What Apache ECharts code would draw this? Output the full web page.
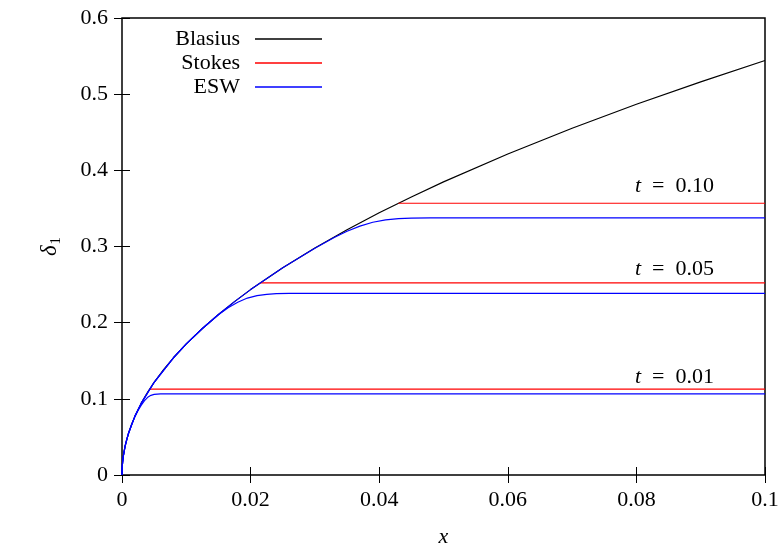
<!DOCTYPE html>
<html>
<head>
	<meta charset="utf-8" />
	<title>delta1</title>
	<script src="https://cdn.jsdelivr.net/npm/echarts@6/dist/echarts.min.js"></script>
	<style>
		* { margin: 0; padding: 0; }
		html, body { width: 784px; height: 544px; background: #fff; }
		#main { width: 784px; height: 544px; }
	</style>
</head>
<body>
	<div id="main"></div>
	<script>
		// Blasius curve
		var blasius = [[0, 0], [0.00002, 0.0077], [0.00005, 0.0122], [0.0001, 0.0172], [0.0002, 0.0243], [0.0003, 0.0298],
			[0.0005, 0.0385], [0.00075, 0.0471], [0.001, 0.0544], [0.0015, 0.0666], [0.002, 0.0770], [0.003, 0.0943],
			[0.004, 0.1088], [0.005, 0.1217], [0.0065, 0.1387], [0.008, 0.1539], [0.01, 0.1721], [0.0125, 0.1924],
			[0.015, 0.2108], [0.0175, 0.2276], [0.02, 0.2434], [0.025, 0.2721], [0.03, 0.2981], [0.035, 0.3219],
			[0.04, 0.3442], [0.045, 0.3650], [0.05, 0.3848], [0.06, 0.4215], [0.07, 0.4553], [0.08, 0.4867],
			[0.09, 0.5162], [0.1, 0.5442]];

		// Stokes levels (start where they meet Blasius)
		var stokes01 = [[0.0043, 0.1128], [0.1, 0.1128]];
		var stokes05 = [[0.0215, 0.2523], [0.1, 0.2523]];
		var stokes10 = [[0.043, 0.3568], [0.1, 0.3568]];

		// ESW curves
		var esw01 = [[0, 0], [0.00002, 0.0077], [0.00005, 0.0122], [0.0001, 0.0172], [0.0002, 0.0243], [0.0003, 0.0297],
			[0.0005, 0.0384], [0.00075, 0.0470], [0.001, 0.0542], [0.0015, 0.0663], [0.002, 0.0763], [0.0025, 0.0848],
			[0.003, 0.0918], [0.0035, 0.0976], [0.004, 0.1020], [0.0045, 0.1046], [0.005, 0.1058], [0.0055, 0.1063],
			[0.006, 0.1064], [0.1, 0.1064]];
		var esw05 = [[0, 0], [0.00002, 0.0077], [0.00005, 0.0122], [0.0001, 0.0172], [0.0002, 0.0243], [0.0005, 0.0385],
			[0.001, 0.0544], [0.002, 0.0770], [0.003, 0.0943], [0.005, 0.1217], [0.008, 0.1539], [0.01, 0.1721],
			[0.0125, 0.1923], [0.015, 0.2104], [0.0165, 0.2195], [0.018, 0.2268], [0.0195, 0.2323], [0.021, 0.2355],
			[0.0225, 0.2372], [0.024, 0.2380], [0.026, 0.2384], [0.03, 0.2385], [0.1, 0.2385]];
		var esw10 = [[0, 0], [0.00002, 0.0077], [0.00005, 0.0122], [0.0001, 0.0172], [0.0002, 0.0243], [0.0005, 0.0385],
			[0.001, 0.0544], [0.002, 0.0770], [0.003, 0.0943], [0.005, 0.1217], [0.008, 0.1539], [0.01, 0.1721],
			[0.0125, 0.1924], [0.015, 0.2108], [0.0175, 0.2276], [0.02, 0.2434], [0.025, 0.2721], [0.03, 0.2978],
			[0.033, 0.3118], [0.035, 0.3200], [0.037, 0.3268], [0.039, 0.3318], [0.041, 0.3350], [0.043, 0.3367],
			[0.045, 0.3373], [0.048, 0.3375], [0.1, 0.3375]];

		var tLabels = ['0.10', '0.05', '0.01'];
		var legendNames = ['Blasius', 'Stokes', 'ESW'];

		var font = 'Liberation Serif';
		var fs = 22;
		var chart = echarts.init(document.getElementById('main'), null, { renderer: 'canvas' });

		function line(name, data, color, z) {
			return {
				name: name,
				type: 'line',
				data: data,
				symbol: 'none',
				smooth: false,
				z: z,
				lineStyle: { color: color, width: 1.2 },
				itemStyle: { color: color },
				animation: false
			};
		}

		// one legend per entry so the texts line up on the right, with the sample line after them
		function legend(name, top) {
			return {
				data: [name],
				orient: 'vertical',
				align: 'right',
				right: 457,
				top: top,
				icon: 'rect',
				itemWidth: 67,
				itemHeight: 1.3,
				selectedMode: false,
				textStyle: { fontFamily: font, fontSize: fs, color: '#000', padding: [0, 10, 0, 0] }
			};
		}

		function tLabel(txt, top) {
			return {
				type: 'text',
				left: 635,
				top: top,
				style: {
					text: '{i|t}\u2002=\u2002' + txt,
					font: fs + 'px ' + font,
					fill: '#000',
					rich: { i: { fontStyle: 'italic', fontFamily: font, fontSize: fs } }
				}
			};
		}

		var option = {
			backgroundColor: '#fff',
			animation: false,
			grid: {
				left: 122, right: 19, top: 18, bottom: 69,
				outerBoundsMode: 'none', containLabel: false,
				show: true, borderColor: '#000', borderWidth: 1.5
			},
			legend: [legend(legendNames[0], 23), legend(legendNames[1], 47), legend(legendNames[2], 71)],
			xAxis: [{
				type: 'value', min: 0, max: 0.1, interval: 0.02,
				name: 'x', nameLocation: 'middle', nameGap: 51, nameMoveOverlap: false,
				nameTextStyle: { fontFamily: font, fontSize: fs, fontStyle: 'italic', color: '#000' },
				axisLine: { show: false },
				axisTick: { inside: true, length: 8, lineStyle: { color: '#000' } },
				splitLine: { show: false },
				axisLabel: {
					margin: 14, fontFamily: font, fontSize: fs, color: '#000',
					formatter: function (v) { return v === 0 ? '0' : String(+v.toFixed(2)); }
				}
			}, {
				type: 'value', min: 0, max: 0.1, interval: 0.02, position: 'top',
				axisLine: { show: false },
				axisTick: { inside: true, length: 8, lineStyle: { color: '#000' } },
				axisLabel: { show: false }, splitLine: { show: false }
			}],
			yAxis: [{
				type: 'value', min: 0, max: 0.6, interval: 0.1,
				name: '{d|δ}{s|1}', nameLocation: 'middle', nameGap: 58, nameRotate: 90, nameMoveOverlap: false,
				nameTextStyle: {
					color: '#000',
					rich: {
						d: { fontFamily: font, fontSize: 23, fontStyle: 'italic', color: '#000' },
						s: { fontFamily: font, fontSize: 15, color: '#000', verticalAlign: 'bottom', padding: [13, 0, 0, 1] }
					}
				},
				axisLine: { show: false },
				axisTick: { inside: true, length: 8, lineStyle: { color: '#000' } },
				splitLine: { show: false },
				axisLabel: {
					margin: 14, fontFamily: font, fontSize: fs, color: '#000',
					formatter: function (v) { return v === 0 ? '0' : String(+v.toFixed(1)); }
				}
			}, {
				type: 'value', min: 0, max: 0.6, interval: 0.1, position: 'right',
				axisLine: { show: false },
				axisTick: { inside: true, length: 8, lineStyle: { color: '#000' } },
				axisLabel: { show: false }, splitLine: { show: false }
			}],
			graphic: [tLabel(tLabels[0], 175), tLabel(tLabels[1], 258), tLabel(tLabels[2], 366)],
			series: [
				line('Blasius', blasius, '#000000', 2),
				line('Stokes', stokes01, '#ff0000', 3),
				line('Stokes', stokes05, '#ff0000', 3),
				line('Stokes', stokes10, '#ff0000', 3),
				line('ESW', esw01, '#0000ff', 4),
				line('ESW', esw05, '#0000ff', 4),
				line('ESW', esw10, '#0000ff', 4)
			]
		};
		chart.setOption(option);
	</script>
</body>
</html>
